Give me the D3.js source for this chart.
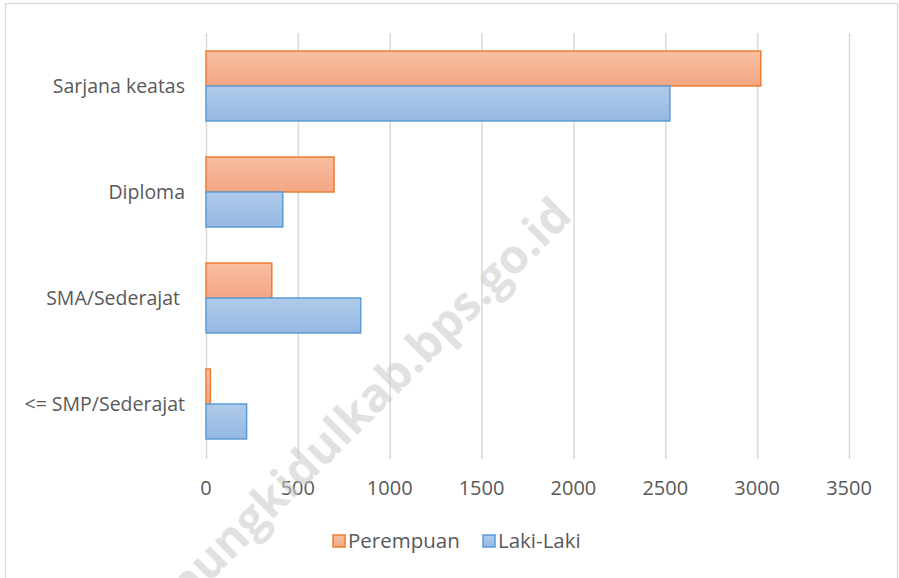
<!DOCTYPE html>
<html>
<head>
<meta charset="utf-8">
<script src="https://cdn.jsdelivr.net/npm/d3@7"></script>
<style>
  body { margin: 0; background: #fff; }
  svg text { font-family: "Open Sans", "Noto Sans", sans-serif; fill: #595959; }
</style>
</head>
<body>
<div id="chart"></div>
<script>
// categories, top to bottom
const categories = ["Sarjana keatas", "Diploma", "SMA/Sederajat ", "<= SMP/Sederajat"];
const perempuan = [3020, 697, 358, 24];
const lakiLaki = [2525, 418, 842, 221];
const seriesNames = ["Perempuan", "Laki-Laki"];
const xTicks = [0, 500, 1000, 1500, 2000, 2500, 3000, 3500];

const width = 899, height = 578;
const margin = { top: 33, left: 206, right: 50, bottom: 121 };

const svg = d3.select("#chart")
  .append("svg")
  .attr("width", width)
  .attr("height", height);

// gradients
const defs = svg.append("defs");
function makeGrad(id, c1, c2) {
  const g = defs.append("linearGradient")
    .attr("id", id)
    .attr("x1", 0).attr("y1", 0).attr("x2", 0).attr("y2", 1);
  g.append("stop").attr("offset", "0%").attr("stop-color", c1);
  g.append("stop").attr("offset", "100%").attr("stop-color", c2);
}
makeGrad("grad-p", "#f8bfa1", "#f4a683");
makeGrad("grad-l", "#b0cbea", "#95b8e3");

const fills = ["url(#grad-p)", "url(#grad-l)"];
const strokes = ["#ed7d31", "#5b9bd5"];

// chart frame
svg.append("rect")
  .attr("x", 5.5).attr("y", 3.5)
  .attr("width", 892).attr("height", 590)
  .attr("fill", "none")
  .attr("stroke", "#d9d9d9")
  .attr("stroke-width", 1.3);

let xScale = d3.scaleLinear()
  .domain([0, 3500])
  .range([margin.left, width - margin.right]);

let yScale = d3.scaleBand()
  .domain(categories)
  .range([margin.top, height - margin.bottom])
  .paddingInner(0.34)
  .paddingOuter(0.17);

let sub = d3.scaleBand()
  .domain(seriesNames)
  .range([0, yScale.bandwidth()]);

// vertical gridlines
svg.append("g")
  .attr("class", "x-grid")
  .attr("transform", "translate(0," + (height - margin.bottom + 2) + ")")
  .call(d3.axisBottom(xScale)
    .tickValues(xTicks)
    .tickSize(-(height - margin.bottom + 2 - margin.top))
    .tickFormat(""))
  .call(g => g.select(".domain").remove())
  .call(g => g.selectAll("line").attr("stroke", "#d9d9d9").attr("stroke-width", 1.5));

// bars
const rows = categories.map((c, i) => ({ cat: c, vals: [perempuan[i], lakiLaki[i]] }));
const groups = svg.append("g")
  .selectAll("g")
  .data(rows)
  .enter()
  .append("g")
  .attr("transform", d => "translate(0," + yScale(d.cat) + ")");

groups.selectAll("rect")
  .data(d => d.vals.map((v, k) => ({ v: v, k: k })))
  .enter()
  .append("rect")
  .attr("x", xScale(0))
  .attr("y", d => sub(seriesNames[d.k]))
  .attr("width", d => xScale(d.v) - xScale(0))
  .attr("height", sub.bandwidth())
  .attr("fill", d => fills[d.k])
  .attr("stroke", d => strokes[d.k])
  .attr("stroke-width", 1.5);

// category labels
svg.append("g")
  .selectAll("text")
  .data(categories)
  .enter()
  .append("text")
  .attr("x", 185)
  .attr("y", d => yScale(d) + yScale.bandwidth() / 2)
  .attr("dy", "0.35em")
  .attr("text-anchor", "end")
  .attr("font-size", 19.5)
  .style("white-space", "pre")
  .text(d => d);

// x tick labels
svg.append("g")
  .selectAll("text")
  .data(xTicks)
  .enter()
  .append("text")
  .attr("x", d => xScale(d))
  .attr("y", 488)
  .attr("dy", "0.35em")
  .attr("text-anchor", "middle")
  .attr("font-size", 20)
  .text(d => d);

// legend
const legend = svg.append("g");
const legendX = [333, 483];
seriesNames.forEach((name, k) => {
  legend.append("rect")
    .attr("x", legendX[k]).attr("y", 535)
    .attr("width", 12).attr("height", 12)
    .attr("fill", fills[k])
    .attr("stroke", strokes[k])
    .attr("stroke-width", 1.5);
  legend.append("text")
    .attr("x", legendX[k] + 15).attr("y", 541)
    .attr("dy", "0.35em")
    .attr("font-size", 20.5)
    .text(name);
});

// watermark
svg.append("text")
  .attr("transform", "translate(574,218) rotate(-45)")
  .attr("text-anchor", "end")
  .attr("font-size", 47)
  .attr("font-weight", "bold")
  .style("fill", "#c8c8c8")
  .style("fill-opacity", 0.55)
  .text("gunungkidulkab.bps.go.id");
</script>
</body>
</html>
